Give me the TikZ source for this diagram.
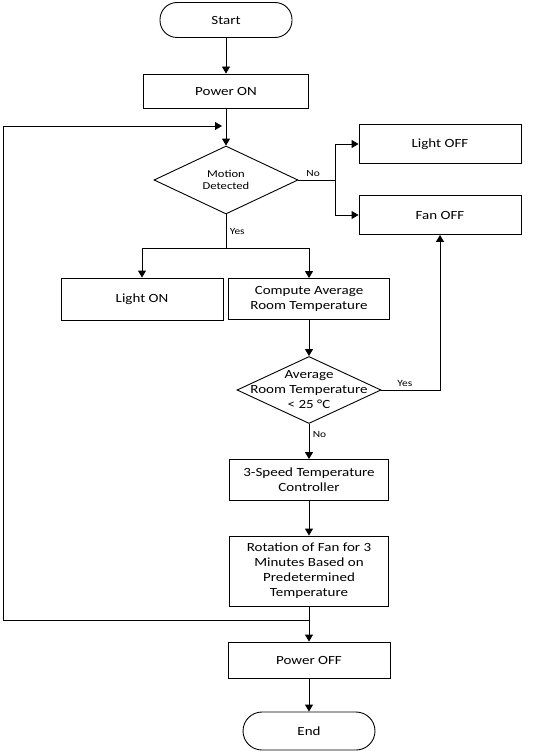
\documentclass[tikz,border=0pt]{standalone}
\usepackage{fontspec}
\setmainfont[FakeStretch=1.2]{Carlito}
\usetikzlibrary{shapes.geometric,arrows.meta}

\tikzset{
  terminal/.style={draw,rectangle,rounded corners=17pt,minimum width=132pt,minimum height=35pt,inner sep=0pt},
  process/.style={draw,rectangle,minimum width=162pt,minimum height=40pt,inner sep=0pt,align=center,font=\fontsize{12.5}{15}\selectfont},
  decision/.style={draw,diamond,minimum width=144pt,minimum height=68pt,inner sep=0pt},
  flow/.style={-{Triangle[length=7pt,width=8pt]}},
  branch/.style={font=\fontsize{9.5}{11}\selectfont}
}

\begin{document}
\begin{tikzpicture}[x=1pt,y=-1pt,line width=0.9pt,font=\fontsize{12.5}{15}\selectfont]
  \useasboundingbox (0,0) rectangle (546,752);

  % Nodes
  \node[terminal] (start) at (226,20) {Start};
  \node[process,minimum width=165pt,minimum height=34pt] (poweron) at (226,91) {Power ON};
  \node[decision,label={[align=center,font=\fontsize{10.5}{12.5}\selectfont]center:Motion\\Detected}] (motion) at (226,180) {};
  \node[process,minimum height=39pt] (lightoff) at (440,144) {Light OFF};
  \node[process,minimum height=39pt] (fanoff) at (440,215) {Fan OFF};
  \node[process,minimum height=42pt] (lighton) at (142,299) {Light ON};
  \node[process,minimum width=161pt,minimum height=41pt] (compute) at (309,299) {Compute Average\\Room Temperature};
  \node[decision,minimum height=67pt,label={[align=center]center:Average\\Room Temperature\\< 25 °C}] (temp) at (309,390) {};
  \node[process,minimum width=159pt,minimum height=41pt] (speed) at (309,480) {3-Speed Temperature\\Controller};
  \node[process,minimum width=159pt,minimum height=70pt] (rotation) at (309,571) {Rotation of Fan for 3\\Minutes Based on\\Predetermined\\Temperature};
  \node[process,minimum height=36pt] (poweroff) at (309,660) {Power OFF};
  \node[terminal,minimum height=38pt,rounded corners=19pt] (end) at (309,731) {End};

  % Helper points
  \coordinate (nosplit) at (335,180);
  \coordinate (yessplit) at (226,248);
  \coordinate (loopsplit) at (309,620);
  \coordinate (loopend) at (222,126);

  % Main line
  \draw[flow] (start) -- (poweron);
  \draw[flow] (poweron) -- (motion);
  \draw[flow] (compute) -- (temp);
  \draw[flow] (temp) -- node[branch,right,pos=0.3] {No} (speed);
  \draw[flow] (speed) -- (rotation);
  \draw[flow] (rotation) -- (poweroff);
  \draw[flow] (poweroff) -- (end);

  % Motion branches
  \draw (motion.east) -- node[branch,above,pos=0.4] {No} (nosplit);
  \draw[flow] (nosplit) |- (lightoff.west);
  \draw[flow] (nosplit) |- (fanoff.west);
  \draw (motion.south) -- node[branch,right,pos=0.5] {Yes} (yessplit);
  \draw[flow] (yessplit) -| (lighton.north);
  \draw[flow] (yessplit) -| (compute.north);

  % Temperature check
  \draw[flow] (temp.east) -| node[branch,above,pos=0.2] {Yes} (fanoff.south);

  % Loop back
  \draw[flow] (loopsplit) -- (3,620) |- (loopend);
\end{tikzpicture}
\end{document}
